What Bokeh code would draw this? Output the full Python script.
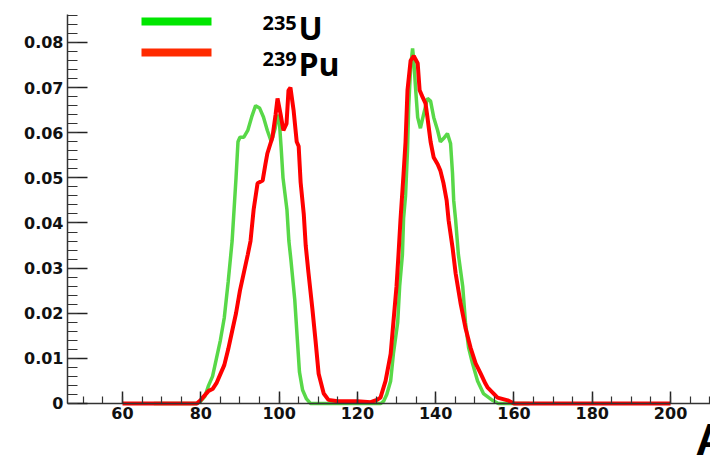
from bokeh.plotting import figure
from bokeh.models import FixedTicker, CustomJSTickFormatter, Label, BoxAnnotation
from bokeh.embed import file_html
from bokeh.resources import INLINE

# ---- data (mass number A vs. fission yield) ----
A_U235 = [68, 75, 79, 80, 81, 82, 83, 84, 85, 86, 87, 88, 89, 89.5, 90, 91, 92, 93, 94, 95,
          96, 97, 98, 99, 99.6, 100.1, 100.5, 101, 102, 102.5, 103, 104, 104.6, 105.2, 106, 107,
          108, 111, 120, 126, 126.7, 127.5, 128.5, 129.2, 130.3, 130.8, 131.5, 131.8, 132.3,
          132.8, 133.1, 133.6, 134.1, 134.4, 134.9, 135.4, 136.1, 136.9, 137.9, 138.7, 139.5,
          140.5, 141.2, 142, 143, 143.8, 144.3, 144.6, 145.1, 145.8, 146.9, 147.6, 148.4, 149.4,
          150.7, 152.2, 154.5, 156, 164]
Y_U235 = [0, 0, 0, 0.0005, 0.0015, 0.004, 0.006, 0.010, 0.014, 0.019, 0.027, 0.036, 0.050,
          0.058, 0.059, 0.059, 0.0605, 0.0635, 0.066, 0.0655, 0.0635, 0.0605, 0.058, 0.061,
          0.064, 0.062, 0.057, 0.050, 0.043, 0.036, 0.032, 0.023, 0.015, 0.007, 0.003, 0.001,
          0, 0, 0, 0, 0.0005, 0.002, 0.005, 0.011, 0.018, 0.026, 0.033, 0.041, 0.046, 0.056,
          0.0656, 0.0745, 0.0787, 0.076, 0.0694, 0.0634, 0.061, 0.064, 0.0676, 0.067, 0.0634,
          0.0605, 0.058, 0.0587, 0.0598, 0.0576, 0.051, 0.045, 0.0406, 0.033, 0.026, 0.018,
          0.0124, 0.0089, 0.005, 0.0022, 0.0007, 0, 0]

A_PU239 = [60, 70, 79, 80, 81, 82, 83, 84, 85, 86, 87, 88, 89, 90, 91, 92, 92.7, 93.5, 94.5,
           95.8, 96.5, 97, 98.3, 99.1, 99.6, 100.4, 101.1, 101.9, 102.4, 102.9, 103.7, 104.5,
           105, 105.5, 106.3, 106.8, 107.5, 108.5, 109.3, 110.1, 111.4, 112.6, 115, 120, 123.4,
           125, 125.9, 127.2, 128.5, 129.2, 130, 130.5, 131, 131.8, 132.3, 132.8, 133.6, 134.4,
           135.4, 135.9, 136.6, 137.4, 137.9, 138.7, 139.5, 140.5, 141.2, 142, 142.8, 143.3,
           144.3, 145.1, 146.4, 147.6, 148.9, 150.2, 151.5, 152.7, 153.3, 154.8, 155.8, 158.4,
           160, 180, 200]
Y_PU239 = [0, 0, 0, 0.0008, 0.0018, 0.0028, 0.0032, 0.0045, 0.0065, 0.0085, 0.012, 0.016,
           0.020, 0.025, 0.029, 0.033, 0.036, 0.043, 0.0488, 0.0494, 0.053, 0.0554, 0.059, 0.064,
           0.0676, 0.064, 0.0605, 0.062, 0.0694, 0.070, 0.065, 0.058, 0.057, 0.049, 0.042, 0.035,
           0.029, 0.021, 0.014, 0.0066, 0.0022, 0.0008, 0.0005, 0.0005, 0.0003, 0.0008, 0.0013,
           0.005, 0.011, 0.018, 0.026, 0.033, 0.0406, 0.051, 0.058, 0.0694, 0.076, 0.077, 0.0754,
           0.0694, 0.068, 0.0665, 0.0634, 0.058, 0.0545, 0.053, 0.0516, 0.0488, 0.045, 0.0406,
           0.0346, 0.0288, 0.022, 0.0168, 0.0124, 0.0089, 0.0066, 0.0044, 0.0035, 0.0022,
           0.0013, 0.0007, 0, 0, 0]

X_TICKS = [60, 80, 100, 120, 140, 160, 180, 200]
Y_TICKS = [0, 0.01, 0.02, 0.03, 0.04, 0.05, 0.06, 0.07, 0.08]
X_MINOR = list(range(50, 211, 5))
Y_MINOR = [i * 0.002 for i in range(44)]
LEGEND_MASS = ["235", "239"]
LEGEND_ELEM = ["U", "Pu"]
X_TITLE = "A"

GREEN = "#58d848"
RED = "#ff0000"
Y_TOP = 0.0862

# frame spans to the bottom of the canvas; the x axis sits at y = 0 inside it
p = figure(width=710, height=456, x_range=(45.95, 210.2), y_range=(-0.01175, Y_TOP),
           output_backend="svg", toolbar_location=None,
           min_border_left=67, min_border_right=0, min_border_top=14, min_border_bottom=0)
p.outline_line_color = None
p.xgrid.grid_line_color = None
p.ygrid.grid_line_color = None
p.background_fill_color = "white"
p.border_fill_color = "white"

xa = p.xaxis[0]
xa.fixed_location = 0
xa.ticker = FixedTicker(ticks=X_TICKS, minor_ticks=X_MINOR)
ya = p.yaxis[0]
ya.bounds = (0, Y_TOP)
ya.ticker = FixedTicker(ticks=Y_TICKS, minor_ticks=Y_MINOR)
ya.formatter = CustomJSTickFormatter(
    code="return tick.toFixed(2).replace(/0+$/, '').replace(/\\.$/, '');")

for ax, (mj, mn) in ((xa, (12, 7)), (ya, (20, 10))):
    ax.major_tick_in = mj
    ax.major_tick_out = 0
    ax.minor_tick_in = mn
    ax.minor_tick_out = 0
    ax.axis_line_color = "#333333"
    ax.axis_line_width = 1.5
    ax.major_tick_line_color = "#222222"
    ax.major_tick_line_width = 1.5
    ax.minor_tick_line_color = "#333333"
    ax.minor_tick_line_width = 1.2
    ax.major_label_text_font = "DejaVu Sans"
    ax.major_label_text_font_style = "bold"
    ax.major_label_text_font_size = "16px"
    ax.major_label_text_color = "#111111"
    ax.major_label_standoff = 4

p.line(A_U235, Y_U235, line_color=GREEN, line_width=3.5)
p.line(A_PU239, Y_PU239, line_color=RED, line_width=4)

# legend (screen units measured from the frame's bottom-left corner)
leg_colors = ["#00e600", "#ff2a00"]
leg_y = [435, 404]
for c, yy in zip(leg_colors, leg_y):
    p.add_layout(BoxAnnotation(left=74, right=144, bottom=yy - 4, top=yy + 4,
                               left_units="screen", right_units="screen",
                               top_units="screen", bottom_units="screen",
                               fill_color=c, fill_alpha=1, line_color=None))

sup_y = [434, 398]
main_y = [429, 393]
for mass, elem, sy, my in zip(LEGEND_MASS, LEGEND_ELEM, sup_y, main_y):
    p.add_layout(Label(x=195, y=sy, x_units="screen", y_units="screen", text=mass,
                       text_font="Open Sans", text_font_style="bold",
                       text_font_size="20px", text_color="black", text_baseline="alphabetic"))
    p.add_layout(Label(x=231, y=my, x_units="screen", y_units="screen", text=elem,
                       text_font="Open Sans", text_font_style="bold",
                       text_font_size="32px", text_color="black", text_baseline="alphabetic"))

p.add_layout(Label(x=628, y=17, x_units="screen", y_units="screen", text=X_TITLE,
                   text_font="Liberation Sans", text_font_style="bold",
                   text_font_size="44px", text_color="black", text_baseline="alphabetic"))

open("out.html", "w").write(file_html(p, INLINE))
